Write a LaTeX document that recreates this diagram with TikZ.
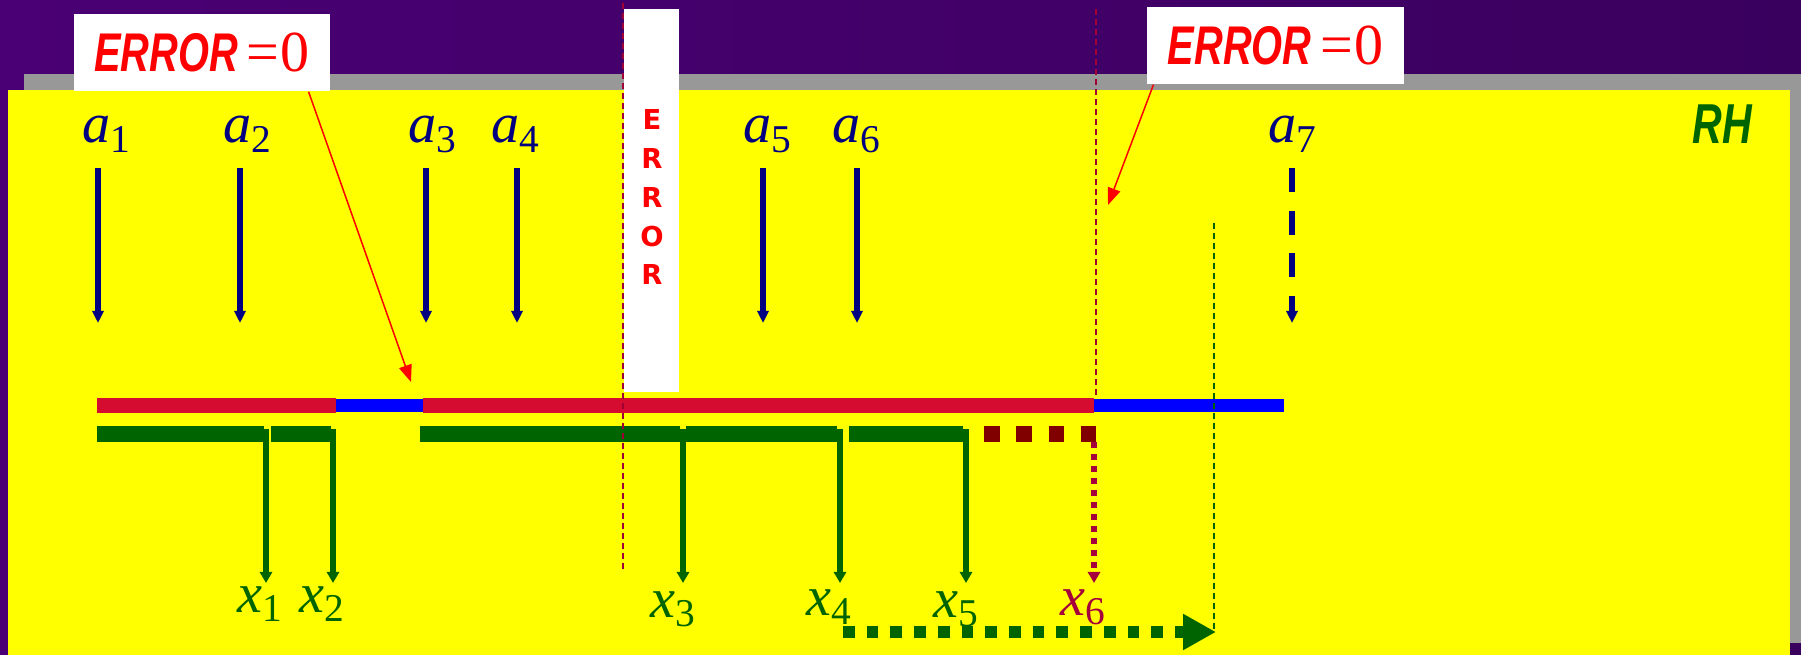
\documentclass[tikz,border=0pt]{standalone}
\usepackage{fontspec}
\setmainfont{Liberation Serif}
\newfontfamily\narrowsans[FakeStretch=0.73]{Liberation Sans}
\newfontfamily\errletters{DejaVu Sans}
\usetikzlibrary{arrows.meta}

\definecolor{bgpurple}{RGB}{74,0,116}
\definecolor{bgpurpledark}{RGB}{58,0,94}
\definecolor{panelgray}{RGB}{152,152,152}
\definecolor{panelyellow}{RGB}{255,255,0}
\definecolor{barred}{RGB}{213,12,47}
\definecolor{barblue}{RGB}{0,0,255}
\definecolor{arrnavy}{RGB}{0,0,128}
\definecolor{dkgreen}{RGB}{0,100,0}
\definecolor{maroonbar}{RGB}{128,0,0}
\definecolor{xsixcol}{RGB}{165,0,60}
\definecolor{guidered}{RGB}{160,0,50}

\newcommand{\idx}[2]{\textit{#1}\textsubscript{#2}}

\begin{document}
\begin{tikzpicture}[
    x=0.01cm, y=-0.01cm,
    symb/.style={font=\fontsize{16}{19}\selectfont, inner sep=0pt, anchor=base west},
    aarrow/.style={arrnavy, line width=0.055cm, -{Triangle[length=0.12cm,width=0.11cm]}},
    gbar/.style={dkgreen, line width=0.156cm},
    xarrow/.style={dkgreen, line width=0.055cm, -{Triangle[length=0.11cm,width=0.12cm]}},
    callout/.style={red, line width=0.015cm, -{Triangle[length=0.17cm,width=0.13cm]}},
    guide/.style={line width=0.015cm, dash pattern=on 0.06cm off 0.04cm},
    errbox/.style={
        fill=white, text=red, inner sep=0pt,
        minimum width=2.56cm, minimum height=0.77cm,
        font=\fontsize{16.5}{18}\selectfont
    },
    errch/.style={font=\errletters\fontsize{7.8}{9}\bfseries\selectfont, text=red, inner sep=0pt, anchor=base}
]
\useasboundingbox (0,0) rectangle (1801,655);

% Background
\shade[left color=bgpurple, right color=bgpurpledark] (0,0) rectangle (1801,655);
\fill[panelgray] (24,74) rectangle (1801,643);
\fill[panelyellow] (8,90) rectangle (1790,655);

% Vertical ERROR strip
\fill[white] (624,9) rectangle (679,392);
\foreach \l [count=\i] in {E,R,R,O,R}
    \node[errch] (ev\i) at (652,{130+38.7*(\i-1)}) {\l};

% Bars
\draw[barblue, line width=0.124cm] (336,405.5) -- (423,405.5);
\draw[barblue, line width=0.124cm] (1094,405.5) -- (1284,405.5);
\draw[barred, line width=0.156cm] (97,405.5) -- (336,405.5);
\draw[barred, line width=0.156cm] (423,405.5) -- (1094,405.5);
\foreach \p/\q in {97/264, 271/331, 420/680, 686/837, 849/963}
    \draw[gbar] (\p,434) -- (\q,434);
\draw[maroonbar, line width=0.156cm, dash pattern=on 0.155cm off 0.168cm] (984,434) -- (1096,434);

% Input arrows
\foreach \n/\lx/\ax in {1/82/98, 2/223/240, 3/408/426, 4/491/517, 5/743/763, 6/832/857} {
    \node[symb, arrnavy] (a\n) at (\lx,143) {\idx{a}{\n}};
    \coordinate (as\n) at (\ax,168);
    \coordinate (ae\n) at (\ax,323);
    \draw[aarrow] (as\n) -- (ae\n);
}
\node[symb, arrnavy] (a7) at (1268,143) {\idx{a}{7}};
\coordinate (as7) at (1292,168);
\coordinate (ae7) at (1292,323);
\draw[aarrow, line width=0.06cm, dash pattern=on 0.24cm off 0.185cm] (as7) -- (ae7);

% Output arrows
\foreach \n/\ax/\lx/\by in {1/266/237/612, 2/333/299/612, 3/683/650/617, 4/840/806/615, 5/966/933/617} {
    \coordinate (xs\n) at (\ax,429);
    \coordinate (xe\n) at (\ax,583);
    \draw[xarrow] (xs\n) -- (xe\n);
    \node[symb, dkgreen] (x\n) at (\lx,\by) {\idx{x}{\n}};
}
\coordinate (xs6) at (1094,442);
\coordinate (xe6) at (1094,583);
\draw[xarrow, xsixcol, dash pattern=on 0.06cm off 0.06cm] (xs6) -- (xe6);
\node[symb, xsixcol] (x6) at (1060,615) {\idx{x}{6}};

% Shift arrow
\coordinate (sh0) at (843,632);
\coordinate (sh1) at (1216,632);
\draw[dkgreen, line width=0.113cm, dash pattern=on 0.117cm off 0.12cm,
      -{Triangle[length=0.33cm,width=0.34cm]}] (sh0) -- (sh1);

% Guides
\coordinate (gl0) at (623,3);
\coordinate (gl1) at (623,570);
\coordinate (gr0) at (1096,9);
\coordinate (gr1) at (1096,397);
\coordinate (gg0) at (1214,223);
\coordinate (gg1) at (1214,633);
\draw[guide, guidered] (gl0) -- (gl1);
\draw[guide, guidered] (gr0) -- (gr1);
\draw[guide, dkgreen] (gg0) -- (gg1);

% Callouts
\node[errbox] (errL) at (202,52.5)
    {{\narrowsans\fontsize{15.5}{18}\bfseries\itshape\selectfont ERROR}\hspace{0.09cm}=\hspace{0.01cm}0};
\node[errbox] (errR) at (1275.5,45.5)
    {{\narrowsans\fontsize{15.5}{18}\bfseries\itshape\selectfont ERROR}\hspace{0.09cm}=\hspace{0.01cm}0};
\coordinate (tipL) at (411,382);
\coordinate (tipR) at (1108,205);
\draw[callout] ([xshift=1.065cm]errL.south) -- (tipL);
\draw[callout] ([xshift=-1.22cm]errR.south) -- (tipR);

% Label
\node[font=\narrowsans\fontsize{16}{19}\bfseries\itshape\selectfont, text=dkgreen,
      inner sep=0pt, anchor=base west] (rh) at (1692,144) {RH};

\end{tikzpicture}
\end{document}
